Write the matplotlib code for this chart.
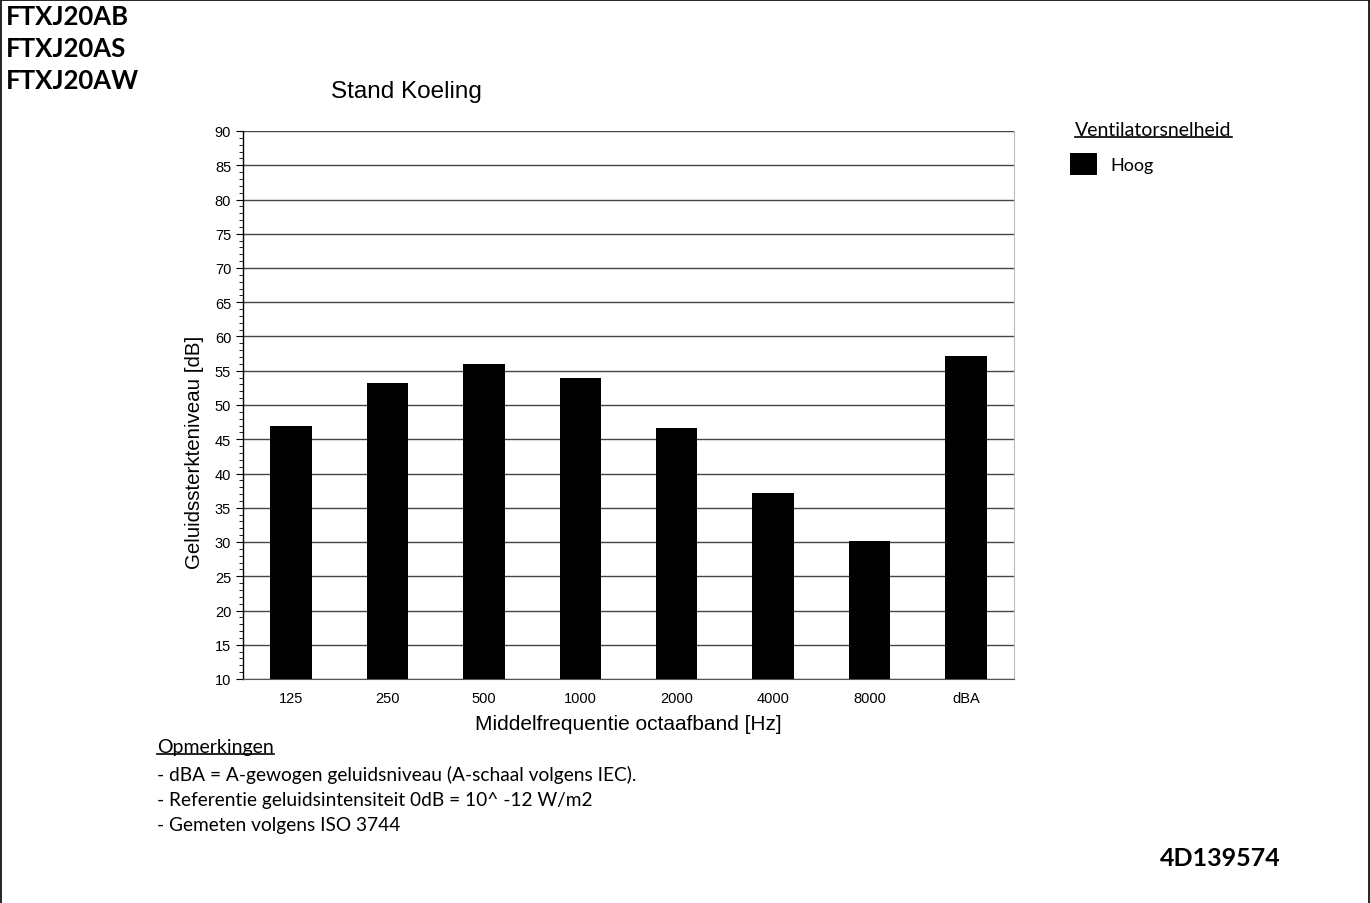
import matplotlib.pyplot as plt
from matplotlib.lines import Line2D

# data
bands = ['125', '250', '500', '1000', '2000', '4000', '8000', 'dBA']
hoog = [46.9, 53.2, 56.0, 54.0, 46.6, 37.2, 30.1, 57.2]
models = ['FTXJ20AB', 'FTXJ20AS', 'FTXJ20AW']
notes = ['- dBA = A-gewogen geluidsniveau (A-schaal volgens IEC).',
         '- Referentie geluidsintensiteit 0dB = 10^ -12 W/m2',
         '- Gemeten volgens ISO 3744']

W, H = 1370, 904
fig = plt.figure(figsize=(W / 100, H / 100), dpi=100)
plt.rcParams['font.family'] = ['Liberation Sans', 'DejaVu Sans']
note_font = ['Lato', 'DejaVu Sans']


def px(x, y):
    # pixel coords (top-left origin) -> figure fraction
    return x / W, 1 - y / H


ax = fig.add_axes([243 / W, 1 - 680 / H, 771 / W, 548 / H])
x = range(len(bands))
bars = ax.bar(x, hoog, width=0.43, color='black', label='Hoog', zorder=3)
ax.set_xlim(-0.5, len(bands) - 0.5)
ax.set_ylim(10, 90)
ax.set_yticks(range(10, 91, 5))
ax.set_yticks(range(10, 91, 1), minor=True)
ax.set_xticks(list(x))
ax.set_xticklabels(bands)
ax.tick_params(axis='x', length=0, labelsize=10.5, pad=9)
ax.tick_params(axis='y', which='major', length=5, labelsize=10.5,
               direction='out')
ax.tick_params(axis='y', which='minor', length=3, direction='out')
ax.grid(axis='y', which='major', color='#444444', linewidth=1, zorder=0)
ax.spines['top'].set_visible(False)
ax.spines['right'].set_color('#bbbbbb')
ax.spines['left'].set_linewidth(1)
ax.spines['bottom'].set_color('#555555')
ax.set_xlabel('Middelfrequentie octaafband [Hz]', fontsize=15, labelpad=6)
ax.set_ylabel('Geluidssterkteniveau [dB]', fontsize=14.8)
ax.yaxis.set_label_coords(-39 / 771, (680 - 452) / 548)

fig.text(*px(406, 92), 'Stand Koeling', fontsize=17.5, ha='center',
         va='center')

for i, m in enumerate(models):
    fig.text(*px(6, 17 + 32 * i), m, fontsize=18.5, fontweight='bold',
             family=note_font, ha='left', va='center')

fig.text(*px(1160, 859), '4D139574', fontsize=18, fontweight='bold',
         family=note_font, ha='left', va='center')

# legend
leg_title = fig.text(*px(1075, 131), 'Ventilatorsnelheid', fontsize=14,
                     family=note_font, ha='left', va='center')
fig.legend(handles=[bars], labels=['Hoog'], loc='center left',
           bbox_to_anchor=px(1054, 165), frameon=False,
           prop={'family': note_font, 'size': 13},
           handlelength=1.5, handleheight=1.45, handletextpad=0.75)

# notes
opm = fig.text(*px(157, 748), 'Opmerkingen', fontsize=14,
               family=note_font, ha='left', va='center')
for i, n in enumerate(notes):
    fig.text(*px(157, 775 + 25.5 * i), n, fontsize=13.8,
             family=note_font, ha='left', va='center')

# underlines
fig.canvas.draw()
r = fig.canvas.get_renderer()
for t in (leg_title, opm):
    bb = t.get_window_extent(r)
    yl = bb.y0 + 1.5
    fig.add_artist(Line2D([bb.x0 / W, bb.x1 / W], [yl / H, yl / H],
                          transform=fig.transFigure, color='black', lw=1.2))

# page border (left, top, right)
fig.add_artist(Line2D([0.5 / W, 0.5 / W, 1368.5 / W, 1368.5 / W],
                      [0, 1 - 0.5 / H, 1 - 0.5 / H, 0],
                      transform=fig.transFigure, color='black', lw=1.2))

fig.savefig('out.png', dpi=100)
